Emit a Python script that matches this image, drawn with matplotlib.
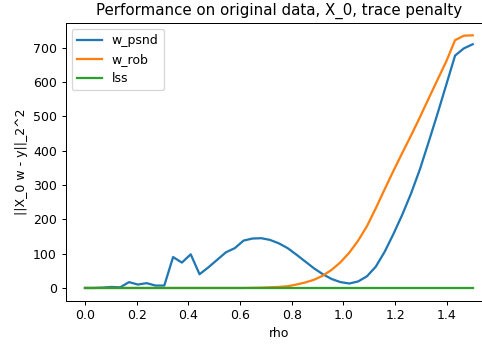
import numpy as np
import matplotlib
matplotlib.use("Agg")
import matplotlib.pyplot as plt

# rho grid: 45 points from 0 to 1.5
rho = np.linspace(0, 1.5, 45)

w_psnd = [0, 0, 1, 3, 2, 17, 10, 14, 7, 7,
          90, 74, 98, 40, 60, 82, 104, 116, 138, 144,
          145, 140, 130, 116, 97, 77, 57, 40, 26, 17,
          13, 19, 34, 62, 105, 157, 213, 275, 345, 425,
          507, 592, 677, 698, 710]

w_rob = [0, 0, 0, 0, 0, 0, 0, 0, 0, 0,
         0, 0, 0, 0, 0, 0, 0, 0, 0, 0.5,
         1, 2, 3, 5, 10, 16, 24, 36, 53, 75,
         103, 138, 180, 232, 287, 341, 393, 444, 497, 552,
         606, 660, 722, 735, 736]

lss = [0] * 45

fig = plt.figure(figsize=(483 / 90, 345 / 90), dpi=90)
ax = fig.add_axes([0.1358, 0.1287, 0.883, 0.8055])

ax.plot(rho, w_psnd, label='w_psnd', lw=1.8)
ax.plot(rho, w_rob, label='w_rob', lw=1.8)
ax.plot(rho, lss, label='lss', lw=1.8)
ax.legend(loc='upper left')
ax.set_title('Performance on original data, X_0, trace penalty')
ax.set_xlabel('rho')
ax.set_ylabel('||X_0 w - y||_2^2')

fig.savefig('out.png', dpi=90)
